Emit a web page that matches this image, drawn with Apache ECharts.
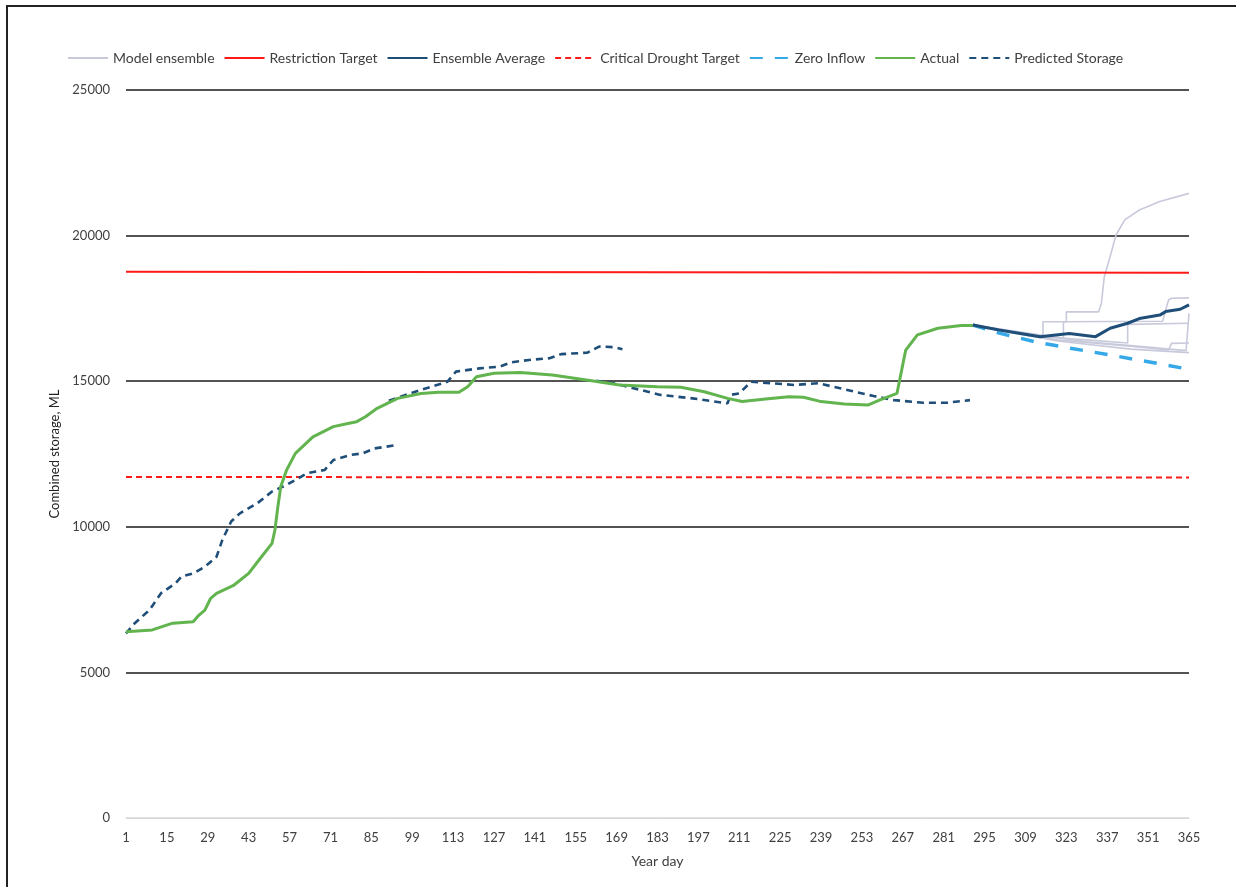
<!DOCTYPE html>
<html>
<head>
<meta charset="utf-8">
<script src="https://cdn.jsdelivr.net/npm/echarts@6/dist/echarts.min.js"></script>
<style>
html, body { margin: 0; padding: 0; background: #fff; }
#chart { width: 1236px; height: 887px; }
</style>
</head>
<body>
<div id="chart"></div>
<script>
// x axis tick labels (Excel shows every 14th day)
var dayTicks = [1, 15, 29, 43, 57, 71, 85, 99, 113, 127, 141, 155, 169, 183, 197, 211, 225, 239, 253, 267, 281, 295, 309, 323, 337, 351, 365];

// targets
var restrictionDays = [1, 365];
var restrictionVals = [18760, 18720];
var droughtDays = [1, 365];
var droughtVals = [11710, 11690];

// actual storage
var actualDays = [1, 10, 17, 24, 26, 28, 30, 32, 38, 43, 47, 51, 52, 53, 54, 56, 59, 65, 72, 77, 80, 83, 87, 94, 102, 108, 115, 118, 121, 127, 136, 147, 161, 170, 183, 191, 199, 207, 212, 220, 228, 233, 239, 247, 255, 259, 265, 268, 272, 279, 287, 291];
var actualVals = [6400, 6460, 6690, 6740, 6970, 7140, 7545, 7715, 8000, 8400, 8920, 9430, 9890, 10690, 11380, 11950, 12520, 13090, 13440, 13550, 13610, 13780, 14070, 14410, 14580, 14620, 14620, 14810, 15150, 15270, 15300, 15210, 15010, 14870, 14810, 14790, 14640, 14410, 14300, 14390, 14470, 14450, 14300, 14220, 14180, 14350, 14580, 16070, 16590, 16820, 16910, 16910];

// predicted storage, three forecast runs
var pred1Days = [1, 4, 9, 13, 18, 20, 24, 28, 32, 34, 37, 40, 46, 51, 56, 63, 69, 72, 78, 82, 86, 94];
var pred1Vals = [6340, 6690, 7140, 7720, 8060, 8290, 8400, 8630, 8970, 9550, 10180, 10460, 10810, 11210, 11440, 11840, 11950, 12290, 12470, 12520, 12690, 12810];
var pred2Days = [91, 95, 102, 111, 114, 122, 129, 133, 139, 146, 150, 159, 163, 168, 171];
var pred2Vals = [14330, 14470, 14700, 14980, 15330, 15440, 15500, 15650, 15730, 15790, 15930, 15980, 16190, 16170, 16100];
var pred3Days = [162, 168, 184, 195, 207, 208, 211, 215, 222, 230, 238, 248, 257, 264, 274, 282, 290];
var pred3Vals = [15010, 14930, 14530, 14410, 14240, 14530, 14580, 14980, 14930, 14870, 14930, 14700, 14490, 14350, 14260, 14260, 14350];

// model ensemble members
var ens1Days = [291, 300, 315, 315, 323, 323, 334, 335, 336, 338, 340, 343, 348, 355, 365];
var ens1Vals = [16930, 16770, 16530, 17040, 17040, 17380, 17380, 17680, 18590, 19280, 20020, 20540, 20880, 21170, 21450];
var ens2Days = [291, 305, 322, 322, 356, 357, 358, 359, 365];
var ens2Vals = [16930, 16700, 16480, 17040, 17060, 17440, 17790, 17850, 17860];
var ens3Days = [291, 310, 330, 344, 344, 365];
var ens3Vals = [16930, 16560, 16420, 16310, 16950, 16990];
var ens4Days = [291, 330, 350, 364, 365];
var ens4Vals = [16930, 16350, 16180, 16050, 17330];
var ens5Days = [291, 320, 345, 358, 359, 365];
var ens5Vals = [16930, 16420, 16200, 16070, 16300, 16310];
var ens6Days = [291, 320, 345, 365];
var ens6Vals = [16930, 16380, 16100, 15980];

// ensemble average
var avgDays = [291, 300, 314, 324, 333, 338, 344, 348, 355, 357, 362, 365];
var avgVals = [16930, 16760, 16530, 16640, 16530, 16820, 16990, 17150, 17270, 17390, 17470, 17620];

// zero inflow
var zeroDays = [291, 300, 312, 325, 338, 352, 365];
var zeroVals = [16930, 16650, 16360, 16120, 15900, 15650, 15410];

function pairs(days, vals) {
    var out = [];
    for (var i = 0; i < days.length; i++) out.push([days[i], vals[i]]);
    return out;
}

var ensColor = '#c8cadb';
function ensSeries(days, vals) {
    return {
        name: 'Model ensemble', type: 'line', symbol: 'none', z: 2,
        lineStyle: { color: ensColor, width: 1.6 }, itemStyle: { color: ensColor },
        data: pairs(days, vals)
    };
}
var predStyle = { color: '#1f4e79', width: 2.6, type: [7, 5] };
function predSeries(days, vals) {
    return {
        name: 'Predicted Storage', type: 'line', symbol: 'none', z: 4,
        lineStyle: predStyle, itemStyle: { color: '#1f4e79' },
        data: pairs(days, vals)
    };
}

var myChart = echarts.init(document.getElementById('chart'));
var font = 'Lato, "Open Sans", sans-serif';
var option = {
    backgroundColor: '#fff',
    animation: false,
    textStyle: { fontFamily: font },
    graphic: [{
        type: 'rect', silent: true,
        shape: { x: 7, y: 6, width: 1300, height: 1000 },
        style: { fill: 'none', stroke: '#222', lineWidth: 2 }
    }],
    legend: {
        left: 62, top: 46,
        itemWidth: 40, itemHeight: 10, itemGap: 9,
        itemStyle: { opacity: 0 },
        textStyle: { fontSize: 14, color: '#404040', fontFamily: font },
        data: ['Model ensemble', 'Restriction Target', 'Ensemble Average', 'Critical Drought Target', 'Zero Inflow', 'Actual', 'Predicted Storage']
    },
    grid: { left: 126, right: 47, top: 90, bottom: 69 },
    xAxis: {
        type: 'value', min: 1, max: 365,
        name: 'Year day', nameLocation: 'middle', nameGap: 36,
        nameTextStyle: { fontSize: 14, color: '#404040' },
        axisLine: { show: true, lineStyle: { color: '#d8d8d8' } },
        axisTick: { show: false },
        splitLine: { show: false },
        axisLabel: { customValues: dayTicks, fontSize: 13, color: '#404040', margin: 13 }
    },
    yAxis: {
        type: 'value', min: 0, max: 25000, interval: 5000,
        name: 'Combined storage, ML', nameLocation: 'middle', nameGap: 60,
        nameTextStyle: { fontSize: 13, color: '#222' },
        axisLine: { show: false }, axisTick: { show: false },
        axisLabel: { fontSize: 13, color: '#404040', margin: 16, formatter: function (v) { return String(v); } },
        splitLine: { lineStyle: { color: ['#d8d8d8', '#1a1a1a', '#1a1a1a', '#1a1a1a', '#1a1a1a', '#1a1a1a'], width: 1.6 } }
    },
    series: [
        ensSeries(ens1Days, ens1Vals),
        ensSeries(ens2Days, ens2Vals),
        ensSeries(ens3Days, ens3Vals),
        ensSeries(ens4Days, ens4Vals),
        ensSeries(ens5Days, ens5Vals),
        ensSeries(ens6Days, ens6Vals),
        {
            name: 'Restriction Target', type: 'line', symbol: 'none', z: 3,
            lineStyle: { color: '#ff1a1a', width: 2 }, itemStyle: { color: '#ff1a1a' },
            data: pairs(restrictionDays, restrictionVals)
        },
        {
            name: 'Ensemble Average', type: 'line', symbol: 'none', z: 6,
            lineStyle: { color: '#1f4e79', width: 3 }, itemStyle: { color: '#1f4e79' },
            data: pairs(avgDays, avgVals)
        },
        {
            name: 'Critical Drought Target', type: 'line', symbol: 'none', z: 3,
            lineStyle: { color: '#ff1a1a', width: 2, type: [6, 4] }, itemStyle: { color: '#ff1a1a' },
            data: pairs(droughtDays, droughtVals)
        },
        {
            name: 'Zero Inflow', type: 'line', symbol: 'none', z: 5,
            lineStyle: { color: '#35a9e8', width: 3.5, type: [13, 12] }, itemStyle: { color: '#35a9e8' },
            data: pairs(zeroDays, zeroVals)
        },
        {
            name: 'Actual', type: 'line', symbol: 'none', z: 5,
            lineStyle: { color: '#62b44e', width: 3 }, itemStyle: { color: '#62b44e' },
            data: pairs(actualDays, actualVals)
        },
        predSeries(pred1Days, pred1Vals),
        predSeries(pred2Days, pred2Vals),
        predSeries(pred3Days, pred3Vals)
    ]
};
myChart.setOption(option);
</script>
</body>
</html>
